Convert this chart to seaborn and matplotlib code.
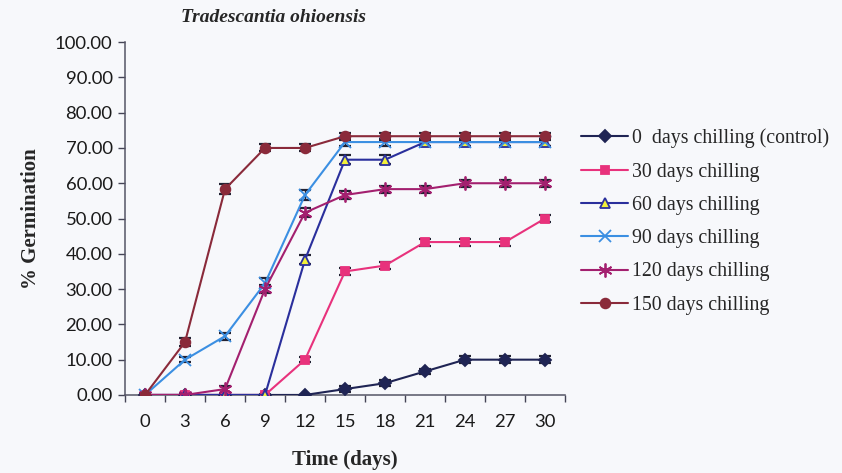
"""
Germination curves for Tradescantia ohioensis after chilling
"""

import numpy as np
import pandas as pd
import matplotlib
matplotlib.use("Agg")
import matplotlib.pyplot as plt
import seaborn as sns

# Data
days = ["0", "3", "6", "9", "12", "15", "18", "21", "24", "27", "30"]

control = [0.00, 0.00, 0.00, 0.00, 0.00, 1.67, 3.33, 6.67, 10.00, 10.00, 10.00]
chill_30 = [0.00, 0.00, 0.00, 0.00, 10.00, 35.00, 36.67, 43.33, 43.33, 43.33, 50.00]
chill_60 = [0.00, 0.00, 0.00, 0.00, 38.33, 66.67, 66.67, 71.67, 71.67, 71.67, 71.67]
chill_90 = [0.00, 10.00, 16.67, 31.67, 56.67, 71.67, 71.67, 71.67, 71.67, 71.67, 71.67]
chill_120 = [0.00, 0.00, 1.67, 30.00, 51.67, 56.67, 58.33, 58.33, 60.00, 60.00, 60.00]
chill_150 = [0.00, 15.00, 58.33, 70.00, 70.00, 73.33, 73.33, 73.33, 73.33, 73.33, 73.33]

# standard errors (small, read roughly from caps)
err_control = [0, 0, 0, 0, 0, 0.8, 0.8, 0.8, 1.0, 1.0, 1.0]
err_30 = [0, 0, 0, 0, 0.8, 1.0, 1.0, 1.0, 1.0, 1.0, 1.0]
err_60 = [0, 0, 0, 0, 1.2, 1.2, 1.2, 1.0, 1.0, 1.0, 1.0]
err_90 = [0, 0.8, 1.0, 1.5, 1.5, 1.0, 1.0, 1.0, 1.0, 1.0, 1.0]
err_120 = [0, 0, 1.0, 1.2, 1.2, 1.0, 1.0, 1.0, 1.0, 1.0, 1.0]
err_150 = [0, 1.0, 1.5, 1.0, 1.0, 1.0, 1.0, 1.0, 1.0, 1.0, 1.0]

labels = [
    "0  days chilling (control)",
    "30 days chilling",
    "60 days chilling",
    "90 days chilling",
    "120 days chilling",
    "150 days chilling",
]
series = [control, chill_30, chill_60, chill_90, chill_120, chill_150]
errors = [err_control, err_30, err_60, err_90, err_120, err_150]

colors = ["#1f2454", "#e8327c", "#2a2f9c", "#3b8fe2", "#a3206f", "#8a2a3a"]
markers = ["D", "s", "^", "x", (6, 2, 0), "o"]
face_colors = ["#1f2454", "#e8327c", "#f2f03a", "#3b8fe2", "#a3206f", "#8a2a3a"]
marker_sizes = [6, 6, 7, 8, 10, 7]

sns.set_theme(style="ticks")
plt.rcParams["font.family"] = ["Liberation Serif", "DejaVu Serif"]

fig = plt.figure(figsize=(8.42, 4.73), dpi=100, facecolor="#f7f8fb")
ax = fig.add_axes([0.1485, 0.165, 0.5225, 0.746])
ax.set_facecolor("#f7f8fb")

pos = np.arange(len(days))
for vals, errs, lab, col, mk, fc, ms in zip(series, errors, labels, colors,
                                             markers, face_colors, marker_sizes):
    df = pd.DataFrame({"pos": pos, "germ": vals})
    ax.errorbar(df["pos"], df["germ"], yerr=errs, fmt="none",
                ecolor="#222233", elinewidth=1.0, capsize=4, capthick=1.6,
                zorder=2)
    sns.lineplot(data=df, x="pos", y="germ", ax=ax, color=col, marker=mk,
                 markersize=ms, markerfacecolor=fc, markeredgecolor=col,
                 markeredgewidth=1.3, linewidth=1.5, label=lab, zorder=3)

ax.set_xlim(-0.5, len(days) - 0.5)
ax.set_ylim(0, 100)
ax.set_yticks(np.arange(0, 101, 10))
ax.set_yticklabels([f"{v:.2f}" for v in np.arange(0, 101, 10)])
ax.set_xticks(pos)
ax.set_xticklabels(days)
ax.set_xticks(np.arange(-0.5, len(days), 1.0), minor=True)
ax.tick_params(axis="x", which="major", length=0, pad=14)
ax.tick_params(axis="x", which="minor", length=5, width=1, color="#444455")
ax.tick_params(axis="y", length=5, width=1, color="#444455", pad=4)
for t in ax.get_xticklabels() + ax.get_yticklabels():
    t.set_fontfamily(["Lato", "DejaVu Sans"])
    t.set_fontsize(13.3)
    t.set_color("#1a1a1a")

for side in ["top", "right"]:
    ax.spines[side].set_visible(False)
for side in ["left", "bottom"]:
    ax.spines[side].set_color("#555566")
    ax.spines[side].set_linewidth(1.1)

ax.set_xlabel("Time (days)", fontsize=15, fontweight="bold", labelpad=14)
ax.set_ylabel("% Germination", fontsize=15, fontweight="bold", labelpad=10)
fig.text(0.325, 0.963, "Tradescantia ohioensis", fontsize=14,
         fontweight="bold", style="italic", ha="center", va="center")

leg = ax.legend(loc="upper left", bbox_to_anchor=(0.681, 0.745),
                bbox_transform=fig.transFigure, frameon=False, fontsize=14.3,
                handlelength=2.35, handletextpad=0.2, labelspacing=0.72,
                borderaxespad=0)

fig.savefig("out.png", dpi=100, facecolor=fig.get_facecolor())
